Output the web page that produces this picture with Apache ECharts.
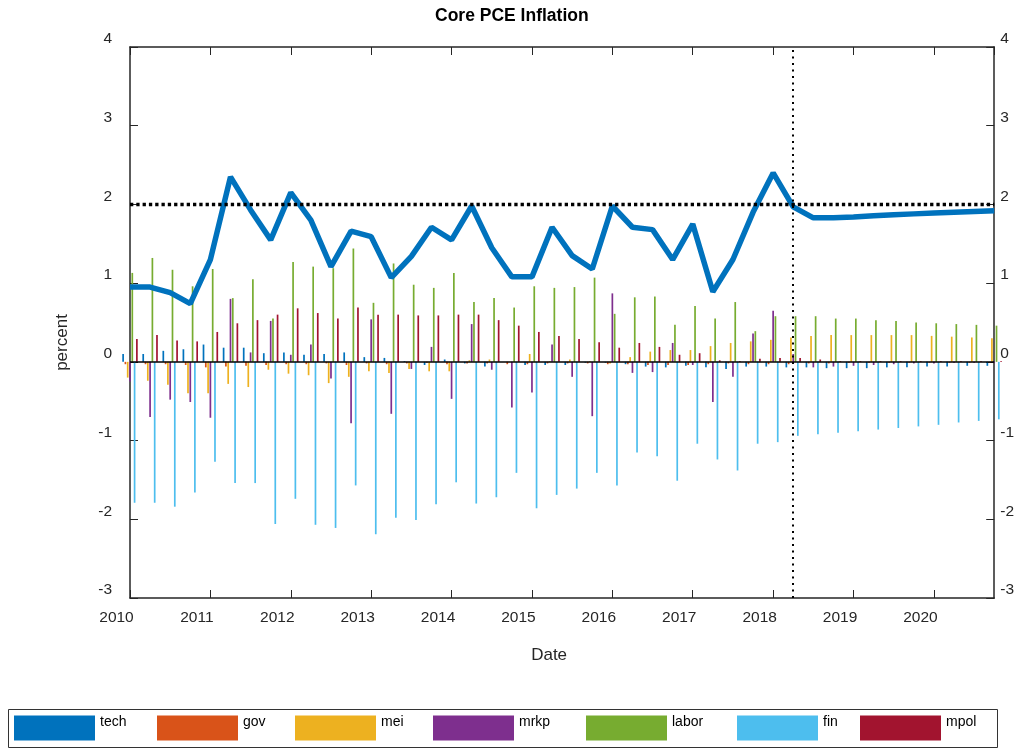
<!DOCTYPE html>
<html>
<head>
<meta charset="utf-8">
<script src="https://cdn.jsdelivr.net/npm/echarts@6/dist/echarts.min.js"></script>
<style>
  html, body { margin: 0; padding: 0; background: #fff; }
  #chart { width: 1017px; height: 750px; }
</style>
</head>
<body>
<div id="chart"></div>
<script>
// quarterly dates 2010Q1 .. 2020Q4
const quarters = Array.from({ length: 44 }, (_, i) => 2010 + i * 0.25)

// contributions (percent)
const tech = [0.10, 0.10, 0.14, 0.16, 0.22, 0.18, 0.18, 0.11, 0.12, 0.09, 0.10, 0.12, 0.06, 0.05, 0.01, -0.04, 0.03, -0.02, -0.06, 0.00, -0.04, -0.04,
  -0.04, -0.01, -0.01, -0.03, -0.06, -0.07, -0.05, -0.07, -0.09, -0.06, -0.06, -0.07, -0.07, -0.08, -0.08, -0.08, -0.07, -0.07, -0.06, -0.06, -0.05, -0.05]
const gov = [-0.03, -0.03, -0.03, -0.04, -0.07, -0.06, -0.05, -0.04, -0.03, -0.03, -0.02, -0.04, -0.02, -0.03, -0.02, -0.01, -0.03, -0.02, -0.02, -0.03, -0.03, -0.02,
  -0.02, -0.02, -0.03, -0.03, -0.04, -0.04, -0.04, -0.03, -0.02, -0.03, -0.03, -0.03, -0.02, -0.02, -0.01, -0.01, -0.01, -0.01, -0.01, -0.01, -0.01, -0.01]
const mei = [-0.20, -0.24, -0.29, -0.40, -0.40, -0.28, -0.32, -0.10, -0.15, -0.17, -0.27, -0.19, -0.12, -0.14, -0.09, -0.12, -0.12, 0.02, 0.03, 0.00, 0.10, 0.01,
  0.03, 0.01, -0.02, 0.06, 0.13, 0.15, 0.15, 0.20, 0.24, 0.26, 0.28, 0.31, 0.33, 0.34, 0.34, 0.34, 0.34, 0.34, 0.33, 0.32, 0.31, 0.30]
const mrkp = [-0.25, -0.70, -0.48, -0.51, -0.71, 0.80, 0.12, 0.52, 0.09, 0.22, -0.21, -0.78, 0.54, -0.66, -0.09, 0.19, -0.47, 0.48, -0.10, -0.58, -0.39, 0.22,
  -0.19, -0.69, 0.87, -0.14, -0.13, 0.24, -0.04, -0.51, -0.19, 0.36, 0.65, 0.10, -0.07, -0.06, -0.05, -0.04, -0.03, -0.02, -0.02, -0.01, -0.01, -0.01]
const labor = [1.13, 1.32, 1.17, 0.96, 1.18, 0.81, 1.05, 0.55, 1.27, 1.21, 1.19, 1.44, 0.75, 1.25, 0.98, 0.94, 1.13, 0.76, 0.81, 0.69, 0.96, 0.94,
  0.95, 1.07, 0.61, 0.82, 0.83, 0.47, 0.71, 0.55, 0.76, 0.39, 0.58, 0.58, 0.58, 0.55, 0.55, 0.53, 0.52, 0.50, 0.49, 0.48, 0.47, 0.46]
const fin = [-1.79, -1.79, -1.84, -1.66, -1.27, -1.54, -1.54, -2.06, -1.74, -2.07, -2.11, -1.57, -2.19, -1.98, -2.01, -1.81, -1.53, -1.80, -1.72, -1.41, -1.86, -1.69,
  -1.61, -1.41, -1.57, -1.15, -1.20, -1.51, -1.04, -1.24, -1.38, -1.04, -1.02, -0.94, -0.92, -0.90, -0.88, -0.86, -0.84, -0.82, -0.80, -0.77, -0.75, -0.73]
const mpol = [0.29, 0.34, 0.27, 0.26, 0.38, 0.49, 0.53, 0.60, 0.68, 0.62, 0.55, 0.69, 0.60, 0.60, 0.59, 0.59, 0.60, 0.60, 0.53, 0.46, 0.38, 0.33,
  0.29, 0.25, 0.18, 0.24, 0.19, 0.09, 0.11, 0.02, 0.01, 0.04, 0.05, 0.05, 0.03, 0.01, 0.01, 0.01, 0.01, 0.01, 0.01, 0.01, 0.01, 0.01]

// core PCE inflation (percent)
const corePce = [0.95, 0.95, 0.88, 0.74, 1.30, 2.35, 1.93, 1.55, 2.15, 1.80, 1.21, 1.66, 1.59, 1.07, 1.34, 1.71, 1.55, 1.98, 1.45, 1.08, 1.08, 1.71,
  1.35, 1.18, 1.98, 1.71, 1.68, 1.30, 1.75, 0.89, 1.30, 1.90, 2.40, 1.97, 1.83, 1.83, 1.84, 1.855, 1.87, 1.88, 1.89, 1.90, 1.91, 1.92]

const target = 2
const forecastStart = 2018.25

const seriesNames = ["tech", "gov", "mei", "mrkp", "labor", "fin", "mpol"]
const seriesColors = ["#0072BD", "#D95319", "#EDB120", "#7E2F8E", "#77AC30", "#4DBEEE", "#A2142F"]
const contribs = [tech, gov, mei, mrkp, labor, fin, mpol]

const font = "'Liberation Sans', Arial, Helvetica, sans-serif"
const axisColor = "#262626"
const legendLeft = [14, 157, 295, 433, 586, 737, 860]

const pairs = arr => arr.map((v, i) => [quarters[i], v])

const chart = echarts.init(document.getElementById("chart"))

const barSeries = seriesNames.map((name, i) => ({
  name,
  type: "bar",
  data: pairs(contribs[i]),
  barWidth: 1.7,
  barGap: "35%",
  itemStyle: { color: seriesColors[i] },
  silent: true
}))

const yAxisBase = {
  type: "value",
  min: -3,
  max: 4,
  interval: 1,
  splitLine: { show: false },
  axisLine: { show: true, lineStyle: { color: axisColor, width: 1.5 } },
  axisTick: { show: true, inside: true, length: 8, lineStyle: { color: axisColor } }
}

const xAxisBase = {
  type: "value",
  min: 2010,
  max: 2020.75,
  interval: 1,
  splitLine: { show: false },
  axisLine: { show: true, onZero: false, lineStyle: { color: axisColor, width: 1.5 } },
  axisTick: { show: true, inside: true, length: 8, lineStyle: { color: axisColor } }
}

const option = {
  animation: false,
  textStyle: { fontFamily: font },
  title: {
    text: "Core PCE Inflation",
    left: 435,
    top: 7,
    padding: 0,
    textStyle: { fontFamily: font, fontSize: 17.5, fontWeight: "bold", color: "#000" }
  },
  grid: { left: 130, right: 20, top: 47, bottom: 152 },
  legend: seriesNames.map((name, i) => ({
    data: [name],
    left: legendLeft[i],
    top: 715,
    padding: 0,
    icon: "rect",
    itemWidth: 81,
    itemHeight: 25,
    itemGap: 0,
    selectedMode: false,
    formatter: n => `{t|${n}}`,
    textStyle: {
      fontFamily: font,
      color: "#000",
      rich: { t: { fontFamily: font, fontSize: 14, color: "#000", padding: [0, 0, 12, 0] } }
    }
  })),
  graphic: [{
    type: "rect",
    shape: { x: 8.5, y: 709.5, width: 989, height: 38 },
    style: { fill: "none", stroke: "#333", lineWidth: 1 },
    silent: true
  }],
  xAxis: [
    {
      ...xAxisBase,
      position: "bottom",
      name: "Date",
      nameLocation: "middle",
      nameGap: 49,
      nameTextStyle: { fontFamily: font, fontSize: 17, color: "#262626", padding: [0, 26, 0, 0] },
      axisLabel: {
        color: "#262626",
        fontSize: 15.5,
        margin: 12,
        padding: [0, 27, 0, 0],
        showMaxLabel: false,
        formatter: v => String(v)
      }
    },
    { ...xAxisBase, position: "top", axisLabel: { show: false } }
  ],
  yAxis: [
    {
      ...yAxisBase,
      position: "left",
      name: "percent",
      nameLocation: "middle",
      nameGap: 59,
      nameTextStyle: { fontFamily: font, fontSize: 17, color: "#262626", padding: [0, 40, 0, 0] },
      axisLabel: { color: "#262626", fontSize: 15.5, margin: 18, verticalAlign: "bottom" }
    },
    {
      ...yAxisBase,
      position: "right",
      axisLabel: { color: "#262626", fontSize: 15.5, margin: 6, verticalAlign: "bottom" }
    }
  ],
  series: [
    ...barSeries,
    {
      name: "Core PCE",
      type: "line",
      data: pairs(corePce),
      showSymbol: false,
      symbol: "none",
      lineStyle: { color: "#0072BD", width: 5.5 },
      z: 5,
      silent: true,
      markLine: {
        silent: true,
        symbol: "none",
        label: { show: false },
        z: 6,
        data: [
          { yAxis: 0, lineStyle: { color: "#000", type: "solid", width: 1.5 } },
          { yAxis: target, lineStyle: { color: "#000", type: [3.3, 3], width: 3.3 } },
          { xAxis: forecastStart, lineStyle: { color: "#000", type: [2, 4.5], width: 2 } }
        ]
      }
    }
  ]
}

chart.setOption(option)
</script>
</body>
</html>
